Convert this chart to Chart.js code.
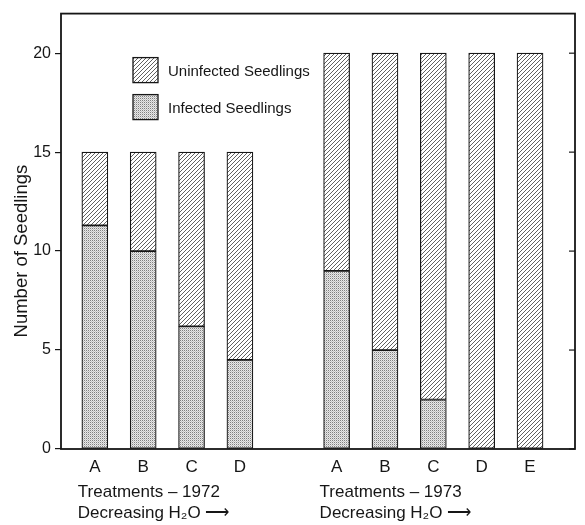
<!DOCTYPE html>
<html><head><meta charset="utf-8">
<script src="https://cdn.jsdelivr.net/npm/chart.js@4.4.1/dist/chart.umd.min.js"></script>
<style>html,body{margin:0;padding:0;background:#fff}#wrap{width:585px;height:525px}</style>
</head><body><div id="wrap"><canvas id="c" width="585" height="525"></canvas></div>
<script>
// ---- data ----
const categories = ['A','B','C','D','','A','B','C','D','E'];
const infected   = [11.3, 10, 6.2, 4.5, null, 9, 5, 2.5, 0, 0];
const uninfected = [3.7, 5, 8.8, 10.5, null, 11, 15, 17.5, 20, 20];
const yTicks = [0, 5, 10, 15, 20];
const groupTitles = ['Treatments \u2013 1972', 'Treatments \u2013 1973'];
const groupFirst = [0, 5];
const groupSubtitle = 'Decreasing H\u2082O \u27F6';
const yTitle = 'Number of Seedlings';
const seriesNames = ['Infected Seedlings', 'Uninfected Seedlings'];

const FONT = '"Liberation Sans", Arial, sans-serif';
const INK = '#161616';

function hatchPattern() {
  const s = 4, c = document.createElement('canvas');
  c.width = s; c.height = s;
  const g = c.getContext('2d');
  g.fillStyle = '#fff'; g.fillRect(0, 0, s, s);
  g.strokeStyle = '#444'; g.lineWidth = 0.85;
  g.beginPath();
  g.moveTo(0, s); g.lineTo(s, 0);
  g.moveTo(-1, 1); g.lineTo(1, -1);
  g.moveTo(s - 1, s + 1); g.lineTo(s + 1, s - 1);
  g.stroke();
  return g.createPattern(c, 'repeat');
}
function dotPattern() {
  const c = document.createElement('canvas');
  c.width = 2; c.height = 2;
  const g = c.getContext('2d');
  g.fillStyle = '#e8e8e8'; g.fillRect(0, 0, 2, 2);
  g.fillStyle = '#808080'; g.fillRect(0, 0, 1, 1);
  g.fillStyle = '#c4c4c4'; g.fillRect(1, 1, 1, 1);
  return g.createPattern(c, 'repeat');
}
const hatch = hatchPattern();
const dots = dotPattern();

const decor = {
  id: 'decor',
  afterDraw(chart) {
    const {ctx, chartArea: a, scales: {x, y}} = chart;
    ctx.save();
    // frame
    ctx.strokeStyle = INK; ctx.lineWidth = 1.8;
    ctx.strokeRect(a.left, a.top, a.right - a.left, a.bottom - a.top);
    // inward ticks on the right side
    ctx.lineWidth = 1.2;
    yTicks.forEach(v => {
      const py = y.getPixelForValue(v);
      ctx.beginPath(); ctx.moveTo(a.right - 6, py); ctx.lineTo(a.right, py); ctx.stroke();
    });
    // y title, centred on the tick range
    const yc = (y.getPixelForValue(yTicks[0]) + y.getPixelForValue(yTicks[yTicks.length - 1])) / 2;
    ctx.fillStyle = INK;
    ctx.font = '18.5px ' + FONT;
    ctx.textAlign = 'center'; ctx.textBaseline = 'middle';
    ctx.translate(22, yc); ctx.rotate(-Math.PI / 2);
    ctx.fillText(yTitle, 0, 0);
    ctx.setTransform(1, 0, 0, 1, 0, 0);
    // group titles under the category labels
    ctx.font = '17px ' + FONT;
    ctx.textAlign = 'left'; ctx.textBaseline = 'middle';
    groupFirst.forEach((gi, k) => {
      const px = x.getPixelForValue(gi) - 17;
      ctx.fillText(groupTitles[k], px, a.bottom + 43);
      ctx.fillText(groupSubtitle, px, a.bottom + 64);
    });
    // legend
    const ds = chart.data.datasets;
    const lx = a.left + 72;
    [[1, a.top + 44], [0, a.top + 81]].forEach(([di, ty]) => {
      ctx.fillStyle = ds[di].backgroundColor;
      ctx.fillRect(lx, ty, 25, 25);
      ctx.strokeStyle = INK; ctx.lineWidth = 1.3;
      ctx.strokeRect(lx, ty, 25, 25);
      ctx.fillStyle = INK;
      ctx.font = '15px ' + FONT;
      ctx.textAlign = 'left'; ctx.textBaseline = 'middle';
      ctx.fillText(ds[di].label, lx + 35, ty + 14);
    });
    ctx.restore();
  }
};

new Chart(document.getElementById('c'), {
  type: 'bar',
  data: {
    datasets: [
      {label: seriesNames[0], data: infected.map((v, i) => ({x: i, y: v})),
       backgroundColor: dots, borderColor: INK, borderWidth: 1.2, borderSkipped: false, barThickness: 26},
      {label: seriesNames[1], data: uninfected.map((v, i) => ({x: i, y: v})),
       backgroundColor: hatch, borderColor: INK, borderWidth: 1.2, borderSkipped: false, barThickness: 26}
    ]
  },
  options: {
    responsive: false, animation: false,
    layout: {padding: {top: 12, right: 10, left: 0, bottom: 0}},
    plugins: {legend: {display: false}, tooltip: {enabled: false}},
    scales: {
      x: {
        type: 'linear', stacked: true, offset: false, min: -0.7, max: 9.93,
        grid: {display: false, offset: false}, border: {display: false},
        afterBuildTicks: s => { s.ticks = categories.map((c, i) => ({value: i})).filter(t => categories[t.value]); },
        ticks: {autoSkip: false, maxRotation: 0, padding: 0, color: INK,
                font: {family: FONT, size: 17}, callback: v => categories[v]},
        afterFit: s => { s.height = 76; }
      },
      y: {
        stacked: true, min: 0, max: 22,
        afterBuildTicks: s => { s.ticks = yTicks.map(v => ({value: v})); },
        grid: {drawOnChartArea: false, drawTicks: true, tickLength: 6, color: INK, lineWidth: 1.2},
        border: {display: false},
        ticks: {padding: 4, color: INK, font: {family: FONT, size: 16}},
        afterFit: s => { s.width = 61; }
      }
    }
  },
  plugins: [decor]
});
</script>
</body></html>
